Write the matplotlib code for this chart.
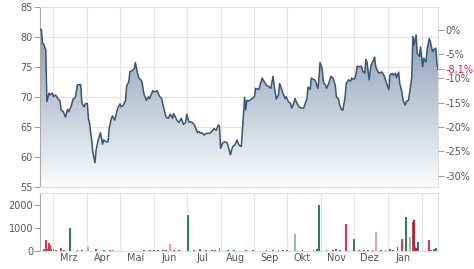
import numpy as np
import matplotlib
matplotlib.use("Agg")
import matplotlib.pyplot as plt
import matplotlib.dates as mdates
import matplotlib.ticker as mticker
from matplotlib.colors import LinearSegmentedColormap

# Kursdaten (Tage seit Start, Schlusskurs)
start = np.datetime64('2023-02-17')
days = [0, 1, 2, 3, 5, 6, 8, 9, 11, 12, 14, 16, 18, 19, 21, 23, 25, 26, 28, 30,
        32, 34, 37, 38, 40, 41, 43, 44, 45, 47, 48, 50, 51, 53, 55, 57, 58, 60, 62, 63,
        65, 66, 68, 70, 71, 73, 74, 76, 78, 79, 81, 82, 84, 86, 87, 89, 90, 92, 93, 95,
        96, 97, 99, 100, 103, 105, 107, 109, 111, 113, 115, 117, 119, 121, 122, 125, 127, 129, 131, 133,
        134, 136, 138, 139, 141, 144, 145, 147, 148, 150, 152, 155, 157, 159, 161, 163, 164, 165, 167, 169,
        171, 172, 174, 176, 178, 180, 182, 184, 187, 188, 189, 191, 193, 196, 197, 200, 203, 204, 207, 209,
        211, 213, 214, 216, 218, 219, 221, 222, 224, 225, 227, 229, 230, 232, 233, 235, 237, 239, 241, 242,
        244, 245, 247, 248, 251, 252, 254, 255, 256, 258, 259, 261, 262, 264, 266, 268, 270, 271, 273, 274,
        276, 277, 279, 280, 282, 284, 285, 287, 288, 289, 290, 292, 294, 295, 297, 298, 299, 301, 302, 303,
        305, 306, 307, 309, 310, 312, 313, 315, 317, 319, 320, 322, 323, 325, 326, 328, 329, 331, 332, 334,
        335, 337, 339, 340, 341, 342, 344, 345, 347, 348, 350, 351, 353, 354, 356, 357, 359, 360, 362, 363,
        364]
prices = [81.2, 81.2, 79.0, 78.8, 77.8, 69.2, 70.6, 70.3, 70.6, 70.0, 70.3, 69.7, 69.3, 67.8, 67.5, 66.6, 67.9, 67.5, 68.3, 69.6,
          69.9, 72.0, 72.0, 68.9, 68.3, 68.8, 68.9, 66.4, 65.6, 62.8, 60.8, 59.0, 61.1, 62.8, 64.0, 62.1, 62.8, 62.5, 62.5, 64.7,
          66.4, 66.8, 66.1, 67.5, 68.2, 68.8, 68.3, 68.6, 69.4, 71.8, 72.5, 74.2, 74.3, 74.7, 75.7, 73.9, 73.2, 72.8, 72.5, 70.3,
          70.0, 69.4, 70.0, 69.7, 71.0, 70.8, 71.0, 70.1, 69.7, 68.1, 66.6, 66.4, 67.1, 66.4, 67.2, 66.1, 65.7, 66.4, 65.4, 65.7,
          67.1, 65.8, 65.8, 65.7, 65.3, 64.0, 64.2, 63.9, 64.0, 63.6, 63.9, 63.9, 64.2, 64.7, 64.4, 65.3, 65.0, 61.4, 62.3, 62.5,
          62.3, 61.7, 60.3, 61.7, 61.9, 62.8, 61.9, 61.7, 69.9, 67.8, 69.4, 69.3, 69.6, 70.0, 71.4, 71.2, 73.1, 72.8, 71.9, 71.7,
          71.4, 73.4, 71.9, 69.6, 70.3, 72.2, 71.2, 70.6, 69.7, 70.0, 69.2, 68.9, 68.1, 68.9, 69.7, 68.9, 68.3, 68.1, 68.1, 68.6,
          69.7, 71.6, 71.2, 73.1, 72.8, 72.5, 71.4, 72.9, 75.7, 74.7, 72.5, 71.9, 71.4, 72.2, 73.4, 73.1, 71.9, 70.0, 69.6, 68.6,
          67.8, 67.8, 70.0, 72.2, 72.8, 72.6, 73.1, 72.9, 73.1, 73.8, 75.1, 75.0, 75.1, 74.3, 73.9, 76.2, 75.8, 72.8, 74.4, 75.3,
          76.1, 76.6, 75.0, 74.2, 73.9, 74.1, 74.1, 73.4, 72.2, 71.2, 73.6, 73.9, 73.6, 73.9, 73.2, 74.1, 72.2, 70.8, 69.4, 68.6,
          69.2, 69.4, 71.9, 73.3, 80.0, 78.6, 80.3, 77.2, 76.7, 78.3, 75.0, 76.4, 75.8, 77.8, 79.7, 79.2, 77.5, 77.8, 78.1, 75.6,
          74.6]

# Umsatz
vol_days = [3, 5, 6, 8, 9, 10, 12, 14, 19, 22, 27, 34, 38, 44, 51, 58, 64, 66, 95, 100,
            104, 108, 112, 115, 119, 122, 127, 135, 141, 146, 152, 157, 160, 164, 172, 177, 188, 195, 207, 213,
            218, 222, 226, 233, 240, 250, 253, 255, 262, 268, 271, 274, 280, 287, 292, 296, 300, 304, 307, 312,
            316, 320, 323, 327, 331, 335, 338, 341, 342, 343, 344, 346, 356, 358, 360, 362]
volumes = [60, 470, 90, 330, 230, 80, 60, 40, 130, 30, 980, 20, 50, 150, 80, 25, 20, 20, 15, 20,
           40, 50, 30, 25, 290, 50, 20, 1560, 20, 70, 25, 30, 40, 130, 30, 30, 20, 50, 15, 20,
           25, 30, 25, 720, 20, 40, 60, 2000, 30, 40, 70, 30, 1150, 510, 30, 20, 25, 40, 830, 30,
           40, 60, 40, 150, 510, 1490, 600, 1270, 1340, 150, 100, 390, 480, 40, 90, 120]
vol_kind = ['r', 'r', 'g', 'r', 'r', 'g', 'g', 'r', 'r', 'g', 'g', 'g', 'r', 'lg', 'r', 'g', 'r', 'r', 'g', 'r',
            'g', 'g', 'r', 'g', 'lr', 'r', 'g', 'g', 'r', 'g', 'r', 'g', 'r', 'r', 'g', 'g', 'r', 'g', 'g', 'r',
            'g', 'r', 'g', 'lg', 'g', 'r', 'g', 'g', 'g', 'r', 'g', 'r', 'r', 'g', 'r', 'g', 'g', 'r', 'lr', 'g',
            'g', 'r', 'g', 'g', 'r', 'g', 'lg', 'r', 'dr', 'r', 'dr', 'g', 'r', 'r', 'g', 'g']
kind_colors = {'g': '#2a8058', 'r': '#d83a52', 'lg': '#8fc0a8', 'lr': '#e8a0ab', 'dr': '#9a2a38'}

months = ['Mrz', 'Apr', 'Mai', 'Jun', 'Jul', 'Aug', 'Sep', 'Okt', 'Nov', 'Dez', 'Jan']

dates = start + np.array(days).astype('timedelta64[D]')
vdates = start + np.array(vol_days).astype('timedelta64[D]')
mid_month = [np.datetime64('2023-03') + np.timedelta64(i, 'M') for i in range(len(months))]
mid_month = [np.datetime64(m, 'D') + np.timedelta64(14, 'D') for m in mid_month]

txt = '#555555'
grid = '#e4e4e4'

fig = plt.figure(figsize=(4.74, 2.69), dpi=100)
ax = fig.add_axes([0.0844, 0.3059, 0.8403, 0.6691])
axv = fig.add_axes([0.0844, 0.068, 0.8403, 0.2145], sharex=ax)

x0 = mdates.date2num(start)
x1 = mdates.date2num(start + np.timedelta64(364, 'D'))
ax.set_xlim(x0 - 0.3, x1 + 0.3)
ax.set_ylim(55, 85)

# Verlaufsfuellung unter der Kurve
cmap = LinearSegmentedColormap.from_list('fill', ['#fbfcfd', '#7890aa'])
grad = np.linspace(0, 1, 256).reshape(-1, 1)
im = ax.imshow(grad, aspect='auto', cmap=cmap, origin='lower',
               extent=[x0, x1, 55, 85], zorder=1)
poly = ax.fill_between(dates, prices, 55, color='none')
im.set_clip_path(poly.get_paths()[0], transform=ax.transData)
ax.plot(dates, prices, color='#3a5575', lw=1.1, zorder=3)

for a in (ax, axv):
    a.xaxis.set_major_locator(mdates.MonthLocator())
    a.xaxis.set_minor_locator(mticker.FixedLocator([mdates.date2num(m) for m in mid_month]))
    a.grid(True, which='major', axis='x', color=grid, lw=0.8)
    a.tick_params(axis='x', which='both', length=0)
    a.tick_params(axis='y', colors='#999999', labelcolor=txt, labelsize=7, length=4, width=0.7, pad=1)
    for s in ('top', 'right', 'bottom'):
        a.spines[s].set_color('#dddddd')
        a.spines[s].set_linewidth(0.8)
    a.spines['left'].set_color('#aaaaaa')
    a.spines['left'].set_linewidth(0.8)
    a.set_axisbelow(True)

ax.grid(True, axis='y', color=grid, lw=0.8)
ax.set_yticks([55, 60, 65, 70, 75, 80, 85])
ax.tick_params(axis='x', which='both', labelbottom=False)

# Prozentachse rechts
base = prices[0]
last_pct = (prices[-1] / base - 1) * 100
ax2 = ax.twinx()
ax2.set_ylim((55 / base - 1) * 100, (85 / base - 1) * 100)
ax2.set_yticks([0, -5, -10, -15, -20, -25, -30, last_pct])
ax2.set_yticklabels(['0%', '-5%', '-10%', '-15%', '-20%', '-25%', '-30%',
                     f'{last_pct:.1f}%'.replace('.', ',')])
ax2.tick_params(axis='y', colors='#999999', labelcolor=txt, labelsize=7, length=4, width=0.7, pad=1)
ax2.get_yticklabels()[-1].set_color('#e0223f')
ax2.yaxis.get_major_ticks()[-1].tick2line.set_color('#e0223f')
for s in ax2.spines.values():
    s.set_visible(False)

# Umsatzbalken
axv.bar(vdates, volumes, width=1.7, linewidth=0,
        color=[kind_colors[k] for k in vol_kind], zorder=2)
axv.set_ylim(0, 2520)
axv.set_yticks([0, 1000, 2000])
axv.xaxis.set_major_formatter(mticker.NullFormatter())
axv.xaxis.set_minor_formatter(mticker.FixedFormatter(months))
axv.tick_params(axis='x', which='minor', labelsize=7, labelcolor=txt, pad=2)

fig.savefig('out.png', dpi=100)
